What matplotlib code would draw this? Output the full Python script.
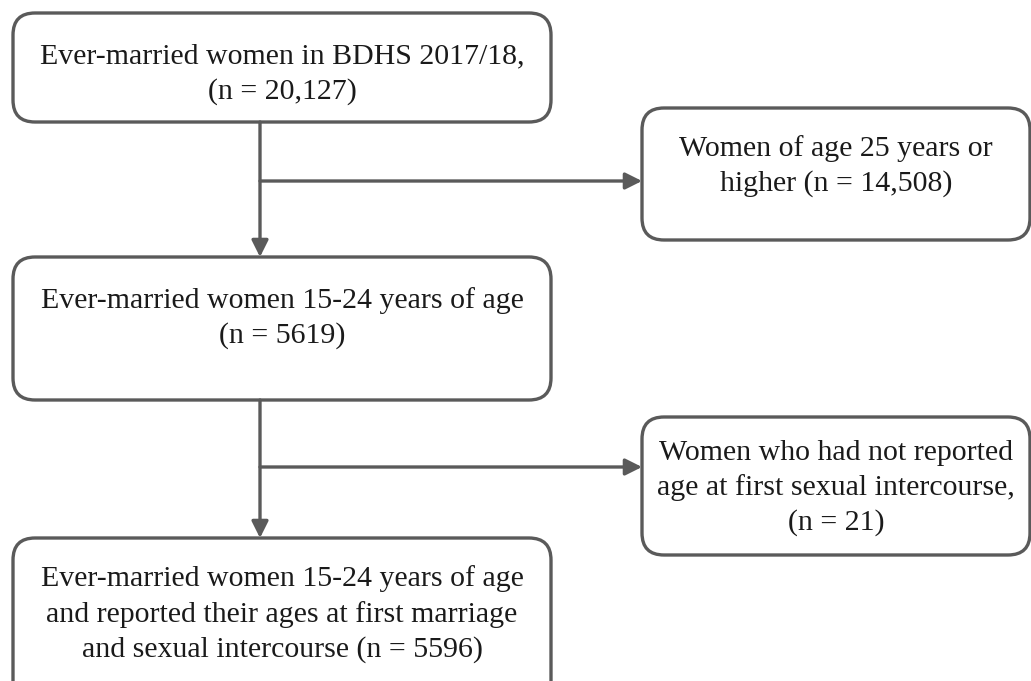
import matplotlib
matplotlib.use("Agg")
import matplotlib.pyplot as plt
from matplotlib.patches import FancyBboxPatch

# flow chart texts
main_labels = [
    "Ever-married women in BDHS 2017/18,\n(n = 20,127)",
    "Ever-married women 15-24 years of age\n(n = 5619)",
    "Ever-married women 15-24 years of age\nand reported their ages at first marriage\nand sexual intercourse (n = 5596)",
]
excluded_labels = [
    "Women of age 25 years or\nhigher (n = 14,508)",
    "Women who had not reported\nage at first sexual intercourse,\n(n = 21)",
]

GREY = "#5a5a5a"
R = 22  # corner radius in px
plt.rcParams['font.family'] = ['Liberation Serif', 'DejaVu Serif']

fig = plt.figure(figsize=(10.31, 6.81), dpi=100)
ax = fig.add_axes([0, 0, 1, 1])
ax.set_xlim(0, 1031)
ax.set_ylim(681, 0)
ax.axis('off')


def box(x0, y0, x1, y1, text, ty):
    p = FancyBboxPatch((x0 + R, y0 + R), x1 - x0 - 2 * R, y1 - y0 - 2 * R,
                       boxstyle="round,pad=%d" % R, fc="white", ec=GREY, lw=2.4)
    ax.add_patch(p)
    ax.text((x0 + x1) / 2, ty, text, ha='center', va='center', fontsize=21.5,
            color="#1a1a1a", linespacing=1.40)


# main boxes (left column)
box(13, 13, 551, 122, main_labels[0], 74)
box(13, 257, 551, 400, main_labels[1], 318)
box(13, 538, 551, 720, main_labels[2], 614)

# exclusion boxes (right column)
box(642, 108, 1030, 240, excluded_labels[0], 166)
box(642, 417, 1030, 555, excluded_labels[1], 488)

arrow = dict(arrowstyle="-|>,head_length=1.0,head_width=0.5", color=GREY, lw=2.4,
             shrinkA=0, shrinkB=0)
for ytop, ybot, ybranch in [(122, 257, 181), (400, 538, 467)]:
    ax.annotate("", xy=(260, ybot), xytext=(260, ytop), arrowprops=arrow)
    ax.annotate("", xy=(642, ybranch), xytext=(260, ybranch), arrowprops=arrow)

plt.savefig("out.png", dpi=100)
